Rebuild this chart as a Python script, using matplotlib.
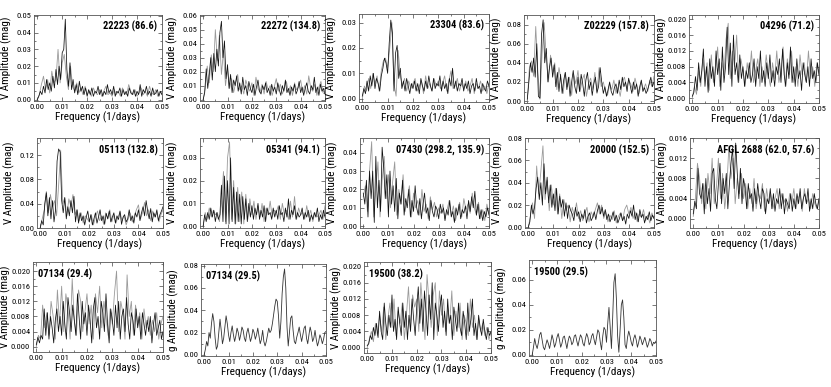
import numpy as np
import matplotlib.pyplot as plt
from matplotlib.ticker import MultipleLocator, FormatStrFormatter, AutoMinorLocator

plt.rcParams['font.family'] = ['Liberation Sans Narrow', 'Roboto Condensed', 'Liberation Sans', 'DejaVu Sans']

# amplitudes, in mmag (0 .. 0.05 1/days, evenly spaced)
a22223_dark = [0, 2, 5, 3, 8, 4, 12, 6, 10, 5, 14, 7, 18, 9, 20, 12,
               28, 30, 48, 18, 8, 22, 6, 12, 4, 9, 3, 11, 5, 8, 3, 7,
               2, 6, 3, 7, 2, 5, 4, 8, 3, 6, 2, 5, 3, 9, 4, 6,
               3, 8, 2, 5, 4, 7, 2, 6, 3, 5, 2, 7, 4, 3, 6, 2,
               5, 3, 9, 2, 6, 4, 8, 3, 5, 2, 7, 3, 4, 6, 2, 5, 3]
a22223_gray = [0, 3, 9, 14, 6, 12, 4, 17, 10, 12, 30, 10, 22,
               27, 14, 6, 20, 8, 5, 10, 4, 7, 3, 8, 3,
               5, 2, 7, 4, 3, 6, 2, 5, 8, 3, 4, 2,
               6, 3, 5, 2, 7, 4, 3, 9, 5, 3, 6, 2,
               4, 7, 3, 5, 2, 8, 4, 3, 6, 2, 5, 3]

a22272_dark = [0, 5, 22, 8, 18, 30, 14, 33, 20, 36, 24, 48, 56, 30, 42, 15,
               25, 8, 18, 5, 14, 10, 17, 6, 12, 4, 16, 7, 10, 3, 13, 8,
               5, 11, 3, 9, 14, 6, 4, 10, 7, 12, 5, 8, 3, 11, 6, 9,
               4, 12, 7, 3, 10, 6, 14, 5, 8, 3, 9, 6, 11, 4, 7, 13,
               5, 9, 3, 8, 12, 6, 4, 10, 7, 16, 5, 9, 3, 11, 6, 8, 4]
a22272_gray = [0, 8, 24, 12, 32, 20, 50, 28, 46, 18, 35, 10, 22,
               8, 15, 5, 12, 18, 7, 10, 4, 14, 9, 6, 12,
               3, 16, 8, 5, 11, 4, 13, 7, 10, 3, 9, 15,
               6, 11, 4, 8, 13, 5, 10, 3, 12, 7, 9, 14,
               5, 10, 4, 17, 8, 6, 11, 3, 9, 13, 5, 8]

a23304_dark = [1, 4, 2, 7, 3, 9, 5, 10, 4, 8, 6, 3, 9, 12, 16, 14,
               10, 22, 31, 26, 3, 18, 21, 8, 12, 4, 7, 3, 8, 5, 2, 6,
               4, 7, 3, 6, 2, 8, 5, 3, 7, 4, 9, 5, 3, 8, 4, 6,
               5, 9, 3, 7, 4, 6, 2, 8, 5, 12, 4, 7, 3, 6, 5, 8,
               3, 6, 4, 7, 2, 5, 6, 3, 8, 4, 5, 2, 6, 4, 3, 7, 5]
a23304_gray = [0, 5, 3, 8, 4, 10, 6, 9, 3, 11, 15, 16, 12,
               20, 30, 6, 1, 19, 9, 5, 8, 3, 7, 4, 6,
               8, 3, 5, 7, 2, 9, 4, 6, 3, 8, 5, 7,
               4, 6, 9, 3, 7, 11, 4, 5, 8, 3, 6, 4,
               7, 3, 5, 8, 2, 6, 4, 7, 3, 5, 2, 6]

a02229_dark = [2, 20, 40, 30, 45, 25, 60, 5, 3, 70, 85, 40, 55, 20, 35, 45,
               25, 38, 15, 30, 10, 28, 8, 22, 30, 12, 25, 5, 20, 32, 15, 8,
               25, 10, 28, 18, 5, 22, 30, 12, 20, 6, 18, 25, 9, 15, 35, 20,
               8, 15, 5, 12, 20, 10, 6, 14, 18, 8, 22, 12, 25, 15, 20, 10,
               24, 16, 8, 20, 12, 18, 5, 15, 22, 10, 14, 8, 12, 18, 25, 15, 20]
a02229_gray = [0, 35, 42, 26, 78, 30, 2, 50, 82, 45, 20, 48, 30,
               40, 12, 35, 22, 8, 30, 15, 25, 6, 28, 18, 32,
               10, 22, 28, 5, 18, 24, 12, 30, 8, 35, 15, 20,
               10, 6, 18, 12, 22, 8, 15, 5, 20, 25, 14, 22,
               18, 10, 24, 15, 8, 20, 12, 18, 10, 22, 15, 26]

a04296_dark = [0.5, 1.5, 5.5, 2, 9, 4, 7, 12.5, 3, 8, 1.5, 10, 5, 8, 3, 12,
               6, 10, 2, 13, 4, 8, 18, 6, 14, 3, 16, 6, 9, 4, 11, 5,
               8, 3, 7, 5, 9, 4, 6, 10, 3, 8, 5, 12, 4, 7, 3, 9,
               5, 11, 4, 7, 3, 8, 6, 10, 4, 12.5, 6, 3, 9, 5, 13, 4,
               8, 3, 10, 5, 7, 2, 9, 6, 4, 8, 3, 10, 5, 7, 4, 9, 6]
a04296_gray = [0, 3, 1, 7, 3, 10, 5, 9, 2, 11, 4, 7, 13,
               3, 9, 6, 15, 19, 5, 12, 8, 16, 4, 10, 7,
               3, 9, 5, 12, 4, 7, 10, 3, 8, 5, 11, 6,
               3, 9, 5, 12, 4, 7, 13, 3, 10, 6, 12, 4,
               8, 3, 11, 6, 9, 4, 12, 5, 8, 3, 9, 6]

a05113_dark = [0, 12, 5, 40, 58, 20, 50, 15, 45, 10, 30, 110, 130, 125, 45, 25,
               50, 15, 35, 20, 45, 25, 52, 10, 30, 8, 25, 12, 20, 5, 18, 28,
               10, 22, 5, 15, 25, 8, 18, 30, 12, 20, 6, 24, 15, 28, 10, 18,
               25, 8, 20, 14, 28, 6, 18, 22, 10, 15, 30, 12, 20, 8, 25, 18,
               30, 12, 25, 35, 20, 45, 28, 15, 32, 10, 25, 18, 30, 12, 22, 28, 35]
a05113_gray = [0, 15, 30, 60, 25, 55, 35, 45, 20, 70, 128, 40, 50,
               20, 48, 35, 55, 22, 30, 12, 25, 8, 20, 15, 10,
               22, 5, 18, 28, 12, 20, 6, 25, 15, 30, 10, 22,
               8, 18, 26, 12, 20, 5, 15, 25, 10, 20, 30, 38,
               15, 25, 42, 20, 30, 12, 28, 18, 25, 10, 22, 30]

a05341_dark = [0, 5, 2, 6, 3, 8, 4, 7, 2, 6, 3, 5, 18, 2, 22, 1,
               20, 1, 30, 2, 17, 1, 15, 2, 14, 1, 13, 3, 12, 2, 10, 4,
               9, 3, 8, 5, 10, 3, 7, 4, 9, 2, 8, 5, 6, 3, 8, 4,
               7, 3, 9, 5, 6, 2, 8, 4, 12, 3, 7, 5, 9, 3, 6, 4,
               5, 8, 3, 6, 4, 7, 2, 5, 3, 6, 4, 8, 2, 5, 3, 7, 4]
a05341_gray = [0, 6, 3, 8, 4, 7, 5, 6, 2, 10, 24, 2, 30,
               37, 3, 20, 1, 17, 2, 15, 1, 14, 3, 12, 5,
               11, 3, 9, 4, 10, 2, 8, 5, 11, 4, 7, 6,
               9, 3, 10, 5, 7, 3, 11, 4, 13, 3, 8, 5,
               6, 3, 9, 4, 7, 2, 6, 4, 5, 7, 3, 9]

a07430_dark = [18, 12, 25, 5, 30, 15, 30, 2, 38, 10, 25, 8, 43, 32, 15, 28,
               5, 30, 12, 22, 8, 26, 4, 18, 12, 25, 6, 15, 10, 20, 5, 14,
               8, 22, 10, 6, 15, 4, 12, 18, 7, 10, 3, 14, 8, 5, 11, 9,
               4, 12, 7, 10, 3, 9, 6, 14, 5, 8, 2, 10, 6, 12, 4, 9,
               7, 11, 4, 14, 8, 16, 10, 19, 6, 12, 4, 9, 3, 8, 5, 10, 6]
a07430_gray = [16, 22, 8, 30, 46, 5, 20, 35, 5, 25, 38, 15, 28,
               10, 24, 35, 6, 20, 12, 28, 8, 15, 22, 5, 18,
               10, 14, 6, 20, 8, 12, 4, 16, 9, 13, 5, 10,
               7, 12, 4, 9, 14, 6, 11, 3, 8, 13, 5, 15,
               9, 12, 7, 18, 10, 6, 13, 4, 9, 3, 12, 7]

a20000_dark = [0, 5, 20, 12, 18, 35, 45, 25, 40, 20, 57, 30, 45, 22, 38, 18,
               30, 15, 35, 12, 28, 18, 25, 10, 22, 8, 20, 15, 12, 6, 18, 10,
               14, 5, 12, 8, 16, 4, 10, 13, 6, 9, 14, 7, 15, 20, 12, 18,
               10, 16, 7, 12, 5, 9, 14, 6, 11, 4, 8, 13, 6, 10, 3, 12,
               8, 15, 10, 20, 7, 13, 5, 16, 9, 12, 4, 10, 7, 14, 6, 11, 8]
a20000_gray = [0, 10, 22, 8, 55, 30, 50, 73, 25, 42, 15, 38, 20,
               35, 12, 30, 8, 25, 15, 20, 5, 18, 10, 22, 8,
               15, 6, 12, 18, 5, 14, 9, 16, 22, 12, 20, 8,
               14, 5, 11, 7, 15, 4, 10, 13, 6, 16, 20, 12,
               18, 8, 14, 5, 12, 9, 16, 6, 11, 4, 13, 8]

afgl2688_dark = [1, 3.5, 2, 10, 5, 4, 7, 1, 8, 3, 6, 1.5, 9, 10, 4, 2,
                 7, 11, 3, 8, 5, 9, 2, 7, 11, 14, 6, 15, 9, 4, 10, 3,
                 8, 6, 2, 7, 4, 5, 1.5, 6, 3, 7, 4, 2, 6, 5, 1, 4,
                 3, 6, 2, 5, 1.5, 4, 3, 6, 2, 5, 1, 4, 3, 2, 5, 1.5,
                 4, 2, 5, 3, 6, 2, 4, 5, 3, 6, 1.5, 4, 2, 5, 3, 2, 4]
afgl2688_gray = [0.5, 4, 11, 8, 3, 7, 2, 9, 5, 12, 3, 6, 12,
                 4, 9, 2, 6, 14.5, 8, 12, 3, 8, 5, 9, 4,
                 7, 2, 6, 3, 8, 2, 5, 4, 7, 1.5, 6, 3,
                 5, 2, 4, 6, 2, 5, 3, 4, 1.5, 5, 3, 6,
                 2, 4, 5, 1.5, 6, 3, 4, 2, 5, 3, 2, 4]

a07134v_dark = [0.5, 2.5, 1, 3, 2, 10, 3, 9, 2, 8, 5, 1, 7, 10, 4, 8,
                3, 12, 6, 2, 13, 9, 4, 11, 7, 3, 14, 8, 2, 12, 6, 9,
                3, 11, 7, 1, 10, 13, 5, 8, 2, 12, 9, 4, 14, 6, 1, 10,
                7, 3, 11, 5, 12, 2, 8, 10, 4, 13, 6, 2, 9, 7, 3, 10,
                5, 8, 2, 9, 6, 3, 7, 4, 8, 1, 6, 9, 3, 5, 7, 2, 4]
a07134v_gray = [0, 3, 2, 11, 5, 9, 3, 12, 8, 2, 15, 6, 16,
                4, 14, 10, 2, 18, 7, 3, 15, 12, 4, 9, 14,
                6, 11, 2, 14, 9, 16, 5, 12, 8, 3, 10, 6,
                14, 20, 4, 12, 9, 2, 19, 8, 12, 3, 11, 6,
                9, 2, 10, 5, 8, 3, 7, 4, 9, 2, 6, 8]

a07134g = [0, 5, 12, 8, 20, 15, 28, 37, 30, 15,
           5, 8, 20, 32, 22, 10, 15, 25, 35, 28,
           18, 12, 20, 26, 18, 12, 17, 24, 20, 13,
           18, 25, 22, 15, 12, 20, 24, 18, 12, 16,
           23, 20, 14, 18, 24, 17, 10, 14, 22, 12,
           8, 12, 18, 24, 20, 22, 28, 36, 44, 50,
           48, 35, 15, 30, 55, 70, 77, 60, 25, 8,
           20, 33, 35, 22, 12, 10, 16, 20, 25, 18,
           12, 18, 24, 26, 15, 10, 18, 25, 20, 12,
           15, 22, 14, 8, 12, 18, 15, 10, 14, 20, 21]

a19500v_dark = [0.5, 1, 3, 2, 5, 3, 6, 2.5, 9, 4, 2, 11, 6, 3, 8, 5,
                13, 4, 7, 2, 10, 6, 3, 11, 5, 9, 2, 8, 4, 12, 7, 3,
                10, 15, 6, 12, 4, 14, 9, 3, 13, 7, 16, 2, 11, 8, 4, 10,
                13, 5, 9, 3, 12, 6, 8, 2, 10, 7, 4, 11, 5, 3, 9, 6,
                2, 11, 4, 7, 12, 3, 6, 2, 8, 5, 3, 7, 4, 2, 5, 3, 4]
a19500v_gray = [0, 2, 4, 1.5, 6, 3, 8, 4, 10, 2, 7, 11, 5,
                12, 3, 9, 6, 11, 2, 8, 15, 5, 13, 10, 12,
                4, 16, 9, 2, 18, 11, 5, 13, 16, 3, 14, 8,
                12, 4, 10, 6, 14, 3, 9, 5, 11, 2, 8, 6,
                3, 12, 5, 8, 2, 7, 4, 6, 3, 5, 2, 4]

a19500g = [0, 6, 13, 8, 5, 10, 16, 18, 12, 6,
           4, 8, 12, 9, 5, 10, 16, 12, 6, 9,
           14, 17, 12, 6, 9, 14, 15, 10, 5, 11,
           15, 13, 8, 10, 15, 16, 11, 7, 12, 16,
           14, 9, 7, 13, 17, 14, 8, 10, 15, 17,
           12, 8, 14, 20, 18, 10, 4, 15, 22, 20,
           10, 25, 38, 22, 5, 30, 58, 65, 45, 15,
           2, 20, 40, 44, 30, 8, 5, 14, 19, 15,
           10, 7, 13, 16, 12, 6, 10, 15, 12, 8,
           11, 14, 10, 6, 9, 13, 11, 7, 10, 9, 11]

labels = ["22223 (86.6)", "22272 (134.8)", "23304 (83.6)", "Z02229 (157.8)", "04296 (71.2)",
          "05113 (132.8)", "05341 (94.1)", "07430 (298.2, 135.9)", "20000 (152.5)",
          "AFGL 2688 (62.0, 57.6)",
          "07134 (29.4)", "07134 (29.5)", "19500 (38.2)", "19500 (29.5)"]
bands = ["V"] * 11 + ["g", "V", "g"]
series = [(a22223_dark, a22223_gray), (a22272_dark, a22272_gray), (a23304_dark, a23304_gray),
          (a02229_dark, a02229_gray), (a04296_dark, a04296_gray), (a05113_dark, a05113_gray),
          (a05341_dark, a05341_gray), (a07430_dark, a07430_gray), (a20000_dark, a20000_gray),
          (afgl2688_dark, afgl2688_gray), (a07134v_dark, a07134v_gray), (a07134g, None),
          (a19500v_dark, a19500v_gray), (a19500g, None)]

# y range, tick step, decimals
yaxes = [((-0.0008, 0.0505), 0.01, 2), ((-0.001, 0.0605), 0.01, 2), ((-0.0013, 0.0334), 0.01, 2),
         ((-0.002, 0.09), 0.02, 2), ((-0.0012, 0.0211), 0.004, 3), ((0, 0.148), 0.04, 2),
         ((-0.0008, 0.0387), 0.01, 2), ((-0.001, 0.048), 0.01, 2), ((-0.0005, 0.08), 0.02, 2),
         ((-0.0018, 0.016), 0.004, 3), ((-0.0014, 0.0224), 0.004, 3), ((-0.001, 0.0815), 0.02, 2),
         ((-0.0013, 0.0211), 0.004, 3), ((-0.001, 0.076), 0.02, 2)]

# axes boxes in pixels: left, right, top, bottom
W, H = 831, 387
boxes = [(34, 162, 15, 101), (200, 325, 15, 101), (359, 489, 14, 102), (524, 654, 15, 103),
         (689, 819, 15, 103),
         (37, 163, 138, 228), (200, 325, 138, 228), (360, 489, 138, 228), (525, 654, 138, 228),
         (690, 819, 138, 228),
         (33, 163, 262, 352), (201, 326, 264, 356), (364, 491, 262, 353), (529, 656, 260, 356)]

fig = plt.figure(figsize=(W / 100, H / 100), dpi=100)

for k, (l, r, t, b) in enumerate(boxes):
    ax = fig.add_axes([l / W, 1 - b / H, (r - l) / W, (b - t) / H])
    dark, gray = series[k]
    if gray is not None:
        ax.plot(np.linspace(0, 0.05, len(gray)), np.array(gray) / 1000, color='#9a9a9a', lw=0.6)
        ax.plot(np.linspace(0, 0.05, len(dark)), np.array(dark) / 1000, color='#111111', lw=0.55)
    else:
        ax.plot(np.linspace(0, 0.05, len(dark)), np.array(dark) / 1000, color='#333333', lw=0.6)

    ylim, ystep, dec = yaxes[k]
    ax.set_xlim(-0.0013, 0.05)
    ax.set_ylim(*ylim)
    ax.xaxis.set_major_locator(MultipleLocator(0.01))
    ax.xaxis.set_major_formatter(FormatStrFormatter('%.2f'))
    ax.yaxis.set_major_locator(MultipleLocator(ystep))
    ax.yaxis.set_major_formatter(FormatStrFormatter('%.' + str(dec) + 'f'))
    ax.xaxis.set_minor_locator(AutoMinorLocator(2))
    ax.yaxis.set_minor_locator(AutoMinorLocator(2))
    ax.tick_params(which='both', direction='in', top=True, right=True, labelsize=6,
                   width=0.5, color='#444444', pad=2)
    ax.tick_params(which='major', length=3)
    ax.tick_params(which='minor', length=1.5)
    for s in ax.spines.values():
        s.set_linewidth(0.6)
        s.set_color('#555555')

    ax.set_xlabel("Frequency (1/days)", fontsize=8, labelpad=1.5)
    ax.set_ylabel(bands[k] + " Amplitude (mag)", fontsize=8)
    # label sits at a fixed distance from the spine, close to the tick labels like the original
    ax.yaxis.set_label_coords(-22 / (r - l), 0.5)

    if k >= 10:
        ax.text(0.04, 0.93, labels[k], transform=ax.transAxes, ha='left', va='top',
                fontsize=7.5, fontweight='bold')
    else:
        ax.text(0.96, 0.93, labels[k], transform=ax.transAxes, ha='right', va='top',
                fontsize=7.5, fontweight='bold')

fig.savefig("out.png", dpi=100)
